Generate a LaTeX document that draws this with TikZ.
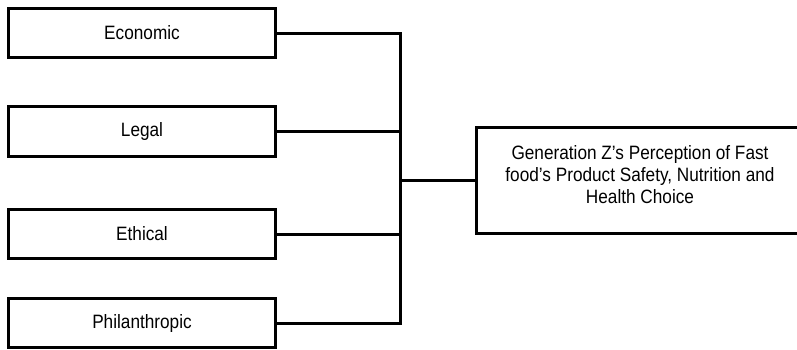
\documentclass[tikz,border=0pt]{standalone}
\usepackage{fontspec}
\setmainfont{Liberation Sans}[FakeStretch=0.89]
\usetikzlibrary{positioning}
\tikzset{factor/.style={rectangle,draw,line width=2.25pt,minimum width=200pt,minimum height=37pt,inner sep=0pt,
	   font=\fontsize{14.5}{16.5}\selectfont},
	 outcome/.style={rectangle,draw,line width=2.25pt,minimum width=245pt,minimum height=79.5pt,inner sep=0pt},
	 outtext/.style={align=center,inner sep=0pt,font=\fontsize{14.5}{16.5}\selectfont},
	 link/.style={line width=2.25pt}
	 }

\begin{document}
\begin{tikzpicture}[x=0.75pt,y=-0.75pt] % CSR dimensions
	\useasboundingbox (0,0) rectangle (797,350);
	\clip (0,0) rectangle (797,350);
	\node[factor] (econ) at (142,33) {Economic};
	\node[factor] (legal) at (142,131.5) {Legal};
	\node[factor] (ethic) at (142,234) {Ethical};
	\node[factor] (phil) at (142,323) {Philanthropic};
	\node[outcome] (perc) at (640,180.5) {};
	\node[outtext] (perctext) at ([yshift=4.5pt]perc.center) {Generation Z’s Perception of Fast\\food’s Product Safety, Nutrition and\\Health Choice};
	\coordinate (bus) at (400,0);
	\draw[link] (econ.east) -- (econ.east -| bus) -- (phil.east -| bus) -- (phil.east);
	\draw[link] (legal.east) -- (legal.east -| bus);
	\draw[link] (ethic.east) -- (ethic.east -| bus);
	\draw[link] (perc.west) -- (perc.west -| bus);
\end{tikzpicture}
\end{document}
